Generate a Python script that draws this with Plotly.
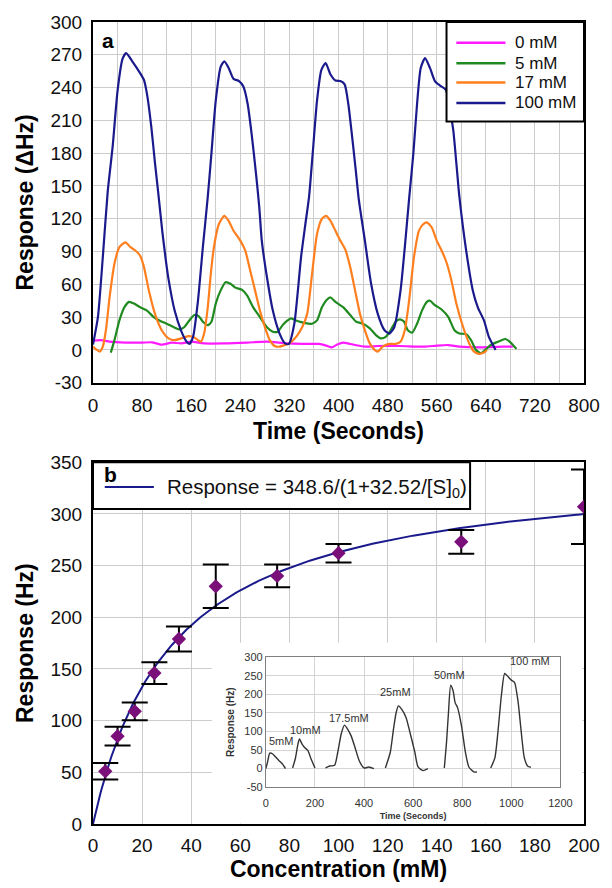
import numpy as np
import plotly.graph_objects as go

# ---------------- Panel a data (Time, Response ΔHz) ----------------
t_0mM = [0, 13, 27, 53, 80, 96, 112, 128, 144, 160, 181, 213, 251, 283, 315, 341, 368, 380, 389, 398, 408, 427, 443, 464, 501, 539, 560, 579, 597, 635, 667, 684]
v_0mM = [8.5, 9, 7.6, 6.7, 6.7, 7, 4.8, 6.7, 6, 7.6, 6, 6, 6.7, 7.6, 6, 5.5, 5.5, 4, 2.4, 5, 6.7, 4.5, 3, 3.6, 3.6, 3, 4, 4.5, 3, 2.4, 3, 3]

t_5mM = [29, 35, 43, 51, 59, 67, 77, 88, 99, 109, 120, 131, 141, 149, 157, 165, 172, 179, 187, 193, 200, 208, 216, 224, 232, 243, 251, 261, 272, 283, 293, 301, 309, 317, 322, 331, 344, 357, 365, 373, 381, 387, 395, 408, 419, 429, 440, 451, 461, 469, 477, 485, 493, 500, 507, 513, 520, 528, 536, 544, 549, 557, 568, 579, 589, 597, 608, 616, 624, 632, 640, 648, 656, 664, 672, 680, 690]
v_5mM = [-2.4, 9, 27, 39, 44, 42.4, 39, 36, 30, 26.7, 24, 21, 18.8, 21, 27, 32, 31, 25.8, 22.7, 25.8, 42.4, 54.5, 62, 60.6, 57, 55, 50, 39, 30, 21, 16.7, 16.7, 22.7, 27, 28.8, 27, 24.8, 24, 27, 39, 46, 48, 44, 39, 32, 25.8, 24, 19.7, 13.6, 10.6, 12, 18, 25.8, 28, 25.8, 18, 15.8, 24, 36, 44, 45, 41, 37, 30, 18, 15, 14.5, 9, 0, -3, 0.6, 4.5, 6.7, 8.5, 10, 7, 1]

t_17mM = [0, 5, 11, 16, 21, 27, 35, 43, 53, 61, 69, 77, 83, 91, 101, 112, 123, 133, 144, 155, 163, 171, 176, 181, 187, 192, 197, 205, 214, 221, 229, 240, 248, 256, 264, 272, 280, 288, 296, 304, 315, 320, 331, 341, 349, 357, 365, 373, 380, 387, 395, 403, 411, 419, 427, 435, 443, 451, 459, 464, 472, 483, 493, 501, 508, 515, 523, 531, 538, 544, 552, 560, 568, 576, 584, 592, 603, 613, 621, 629, 637, 642]
v_17mM = [3, 0.6, -1.5, 3, 18, 48, 79, 94, 98.5, 94, 91, 86, 76, 54.5, 33, 18, 10.6, 9, 10.6, 12.7, 12, 9, 7.6, 15, 39, 70, 94, 115, 122.7, 118, 109, 100, 91, 73, 54.5, 36, 21, 9, 3.6, 3, 5, 6, 12, 21, 33, 70, 106, 120, 122.7, 118, 109, 100, 92, 76, 54.5, 33, 18, 6, 0, -1.5, 3, 5.5, 5.5, 7.6, 18, 45, 85, 109, 115, 116.7, 112, 100, 91, 80, 63.6, 42.4, 21, 6, -1.5, -3.6, -2.4, 0]

t_100mM = [0, 8, 16, 24, 32, 40, 48, 54, 64, 77, 83, 88, 95, 101, 107, 113, 118, 123, 133, 144, 152, 157, 163, 171, 179, 187, 193, 200, 208, 214, 221, 229, 238, 245, 252, 259, 266, 271, 275, 285, 293, 304, 313, 319, 328, 339, 346, 352, 358, 365, 372, 379, 387, 395, 403, 410, 416, 421, 428, 433, 443, 453, 464, 475, 483, 491, 501, 509, 515, 522, 528, 534, 541, 549, 557, 565, 575, 581, 587, 592, 597, 608, 619, 627, 637, 645, 656]
v_100mM = [5, 30, 85, 145, 186, 237, 266, 271.5, 264, 253, 247, 234, 204, 171, 140, 108, 85, 65, 36, 17, 8, 5.5, 12, 45, 94, 140, 180, 228, 259, 264, 258, 248, 246, 241, 225, 195, 159, 130, 100, 61, 36, 15, 6, 5.5, 24, 85, 115, 140, 180, 228, 256, 262.5, 252, 246.5, 246, 243, 225, 201, 165, 138, 100, 61, 33, 18, 15, 21, 54, 100, 138, 180, 225, 258, 267, 258, 246, 242, 238, 222, 201, 171, 140, 91, 54, 39, 27, 12, 0]

series_names = ["0 mM", "5 mM", "17 mM", "100 mM"]
series_colors = ["#ff1aff", "#1f8a1f", "#ff7f1e", "#1a1a8c"]

top_xticks = [0, 80, 160, 240, 320, 400, 480, 560, 640, 720, 800]
top_yticks = [-30, 0, 30, 60, 90, 120, 150, 180, 210, 240, 270, 300]
top_yticktext = ["-30", "0", "30", "60", "90", "120", "150", "180", "210", "240", "270", "300"]

# ---------------- Panel b data ----------------
conc = [5, 10, 17, 25, 35, 50, 75, 100, 150, 200]
resp = [51, 85, 109, 146, 179, 230, 240, 262, 273, 307]
resp_err = [8, 9, 8.5, 10.5, 12, 21, 11, 9, 11.5, 36]
fit_vmax = 348.6
fit_k = 32.52
fit_label = "Response = 348.6/(1+32.52/[S]<sub>0</sub>)"

# ---------------- Inset data ----------------
inset_segments = {
    "5mM": ([0, 7, 16, 27, 40, 53, 67, 80], [0, 17.8, 41.7, 40, 31, 22, 13, 0]),
    "10mM": ([109, 120, 131, 137, 147, 157, 171, 184, 200], [1.8, 26.6, 66.6, 80, 66.6, 57.7, 48.8, 26.6, 1.8]),
    "17.5mM": ([243, 260, 280, 293, 307, 320, 333, 347, 363, 380, 400, 420, 440], [1.8, 7, 8.9, 44, 93, 117, 106.5, 88.8, 57.7, 22, 1.8, 4.4, 0]),
    "25mM": ([487, 507, 520, 531, 540, 553, 571, 587, 607, 620, 640, 660], [1.8, 44, 106.5, 151, 168.6, 160, 137.6, 97.6, 44, 4.4, -5.3, 0]),
    "50mM": ([727, 736, 744, 753, 763, 771, 781, 797, 813, 827, 847, 860], [1.8, 71, 151, 224, 208.6, 177.5, 164, 115, 44, 4.4, -8.9, -8.9]),
    "100 mM": ([916, 933, 947, 960, 973, 987, 1000, 1013, 1027, 1040, 1053, 1067, 1080], [1.8, 29, 110, 200, 256, 247, 238, 232, 182, 101, 29, 6.3, 3.6]),
}
inset_label_pos = {
    "5mM": (60, 73), "10mM": (163, 105), "17.5mM": (340, 137),
    "25mM": (529, 206), "50mM": (747, 253), "100 mM": (1075, 290),
}
inset_xticks = [0, 200, 400, 600, 800, 1000, 1200]
inset_yticks = [-50, 0, 50, 100, 150, 200, 250, 300]
inset_yticktext = ["-50", "0", "50", "100", "150", "200", "250", "300"]

# ---------------- Layout geometry (pixels) ----------------
W, H = 612, 888
ML, MR, MT, MB = 93, 19, 20, 61
PW, PH = W - ML - MR, H - MT - MB


def px_x(px):
    return (px - ML) / PW


def px_y(py):
    return (H - MB - py) / PH


FONT = "Liberation Sans, Arial, sans-serif"
GRID = "#cccccc"

fig = go.Figure()

# panel a traces
for t, v, name, col in zip([t_0mM, t_5mM, t_17mM, t_100mM],
                           [v_0mM, v_5mM, v_17mM, v_100mM],
                           series_names, series_colors):
    fig.add_trace(go.Scatter(x=t, y=v, mode="lines", name=name, showlegend=False,
                             line=dict(color=col, width=2.2, shape="spline", smoothing=0.6),
                             xaxis="x", yaxis="y"))

# panel b traces
xfit = np.linspace(0.05, 200, 400)
yfit = fit_vmax / (1 + fit_k / xfit)
xfit = np.concatenate([[0], xfit])
yfit = np.concatenate([[0], yfit])
fig.add_trace(go.Scatter(x=xfit, y=yfit, mode="lines", showlegend=False, name="fit",
                         line=dict(color="#1a1a8c", width=2), xaxis="x2", yaxis="y2"))
fig.add_trace(go.Scatter(x=conc, y=resp, mode="markers", showlegend=False, name="data",
                         marker=dict(symbol="diamond", size=11, color="#7a0f7a"),
                         error_y=dict(type="data", array=resp_err, color="black", thickness=2, width=13),
                         xaxis="x2", yaxis="y2"))

# inset traces
for name, (tx, ty) in inset_segments.items():
    fig.add_trace(go.Scatter(x=tx, y=ty, mode="lines", showlegend=False, name=name,
                             line=dict(color="#333333", width=1.4, shape="spline", smoothing=0.6),
                             xaxis="x3", yaxis="y3"))

annotations = []
for name, (ax_, ay_) in inset_label_pos.items():
    annotations.append(dict(x=ax_, y=ay_, xref="x3", yref="y3", text=name, showarrow=False,
                            xanchor="center", yanchor="middle",
                            font=dict(family=FONT, size=11, color="#333333")))

annotations.append(dict(x=px_x(108), y=px_y(39), xref="paper", yref="paper", text="<b>a</b>",
                        xanchor="center", yanchor="middle",
                        showarrow=False, font=dict(family=FONT, size=21, color="black")))
# legend of panel b
annotations.append(dict(x=px_x(111), y=px_y(475), xref="paper", yref="paper", text="<b>b</b>",
                        xanchor="center", yanchor="middle",
                        showarrow=False, font=dict(family=FONT, size=21, color="black")))
annotations.append(dict(x=px_x(166), y=px_y(489), xref="paper", yref="paper", text=fit_label,
                        xanchor="left", yanchor="middle", showarrow=False,
                        font=dict(family=FONT, size=20.5, color="#111111")))

shapes = [
    # white area behind inset (covers main grid)
    dict(type="rect", xref="x2", yref="y2", x0=(214 - ML) / 2.5, x1=199.3, y0=0.6, y1=(827 - 645) / 1.038,
         fillcolor="white", line=dict(width=0), layer="between"),
    # legend box of panel b
    dict(type="rect", xref="paper", yref="paper", x0=px_x(93), x1=px_x(477), y0=px_y(510), y1=px_y(463),
         fillcolor="white", line=dict(color="black", width=2), layer="above"),
    dict(type="line", xref="paper", yref="paper", x0=px_x(105), x1=px_x(155), y0=px_y(488), y1=px_y(488),
         line=dict(color="#1a1a8c", width=2), layer="above"),
    # legend box of panel a
    dict(type="rect", xref="paper", yref="paper", x0=px_x(453), x1=px_x(593), y0=px_y(120), y1=px_y(20),
         fillcolor="white", line=dict(color="black", width=2), layer="above"),
]

# legend entries of panel a
legend_rows_y = [41, 61.5, 81, 101.5]
for name, col, ry in zip(series_names, series_colors, legend_rows_y):
    shapes.append(dict(type="line", xref="paper", yref="paper", x0=px_x(463), x1=px_x(513),
                       y0=px_y(ry), y1=px_y(ry), line=dict(color=col, width=2.5), layer="above"))
    annotations.append(dict(x=px_x(521), y=px_y(ry), xref="paper", yref="paper", text=name,
                            xanchor="left", yanchor="middle", showarrow=False,
                            font=dict(family=FONT, size=17, color="#111111")))

tickfont = dict(family=FONT, size=19, color="#111111")
titlefont = dict(family=FONT, size=23, color="black")

fig.update_layout(
    width=W, height=H, autosize=False, showlegend=False,
    margin=dict(l=ML, r=MR, t=MT, b=MB),
    paper_bgcolor="white", plot_bgcolor="white",
    font=dict(family=FONT),
    xaxis=dict(domain=[0, 1], range=[0, 800], tickvals=top_xticks, showgrid=True, gridcolor=GRID,
               minor=dict(dtick=40, showgrid=True, gridcolor=GRID), tickfont=tickfont,
               showline=True, mirror=True, linecolor="black", linewidth=2, zeroline=False,
               ticks="", ticklabelstandoff=4, anchor="y",
               title=dict(text="<b>Time (Seconds)</b>", font=titlefont, standoff=8)),
    yaxis=dict(domain=[px_y(383), px_y(20)], range=[-30, 300], tickvals=top_yticks, ticktext=top_yticktext,
               showgrid=True, gridcolor=GRID, tickfont=tickfont, zeroline=False,
               showline=True, mirror=True, linecolor="black", linewidth=2, ticks="", ticklabelstandoff=5,
               anchor="x", title=dict(text="<b>Response (ΔHz)</b>", font=titlefont, standoff=10)),
    xaxis2=dict(domain=[0, 1], range=[0, 200], dtick=20, showgrid=True, gridcolor=GRID, tickfont=tickfont,
                showline=True, mirror=True, linecolor="black", linewidth=2, zeroline=False,
                ticks="", ticklabelstandoff=3, anchor="y2",
                title=dict(text="<b>Concentration (mM)</b>", font=titlefont, standoff=4)),
    yaxis2=dict(domain=[px_y(827), px_y(463)], range=[0, 350], dtick=50, showgrid=True, gridcolor=GRID,
                tickfont=tickfont, zeroline=False, showline=True, mirror=True, linecolor="black", linewidth=2,
                ticks="", ticklabelstandoff=5, anchor="x2",
                title=dict(text="<b>Response (Hz)</b>", font=titlefont, standoff=10)),
    xaxis3=dict(domain=[px_x(269), px_x(569)], range=[0, 1200], tickvals=inset_xticks, showgrid=True,
                gridcolor="#d4d4d4", tickfont=dict(family=FONT, size=11, color="#333333"),
                showline=True, mirror=True, linecolor="#808080", linewidth=1, zeroline=False, ticks="",
                ticklabelstandoff=6, anchor="y3",
                title=dict(text="<b>Time (Seconds)</b>", font=dict(family=FONT, size=9, color="#333333"), standoff=4)),
    yaxis3=dict(domain=[px_y(790), px_y(659)], range=[-50, 300], tickvals=inset_yticks, ticktext=inset_yticktext,
                showgrid=True, gridcolor="#d4d4d4", tickfont=dict(family=FONT, size=11, color="#333333"),
                showline=True, mirror=True, linecolor="#808080", linewidth=1, zeroline=False, ticks="",
                anchor="x3",
                title=dict(text="<b>Response (Hz)</b>", font=dict(family=FONT, size=10, color="#333333"), standoff=7)),
    annotations=annotations,
    shapes=shapes,
)

fig.write_html("out.html", config={"displayModeBar": False},
               post_script="document.body.style.margin='0px';")
